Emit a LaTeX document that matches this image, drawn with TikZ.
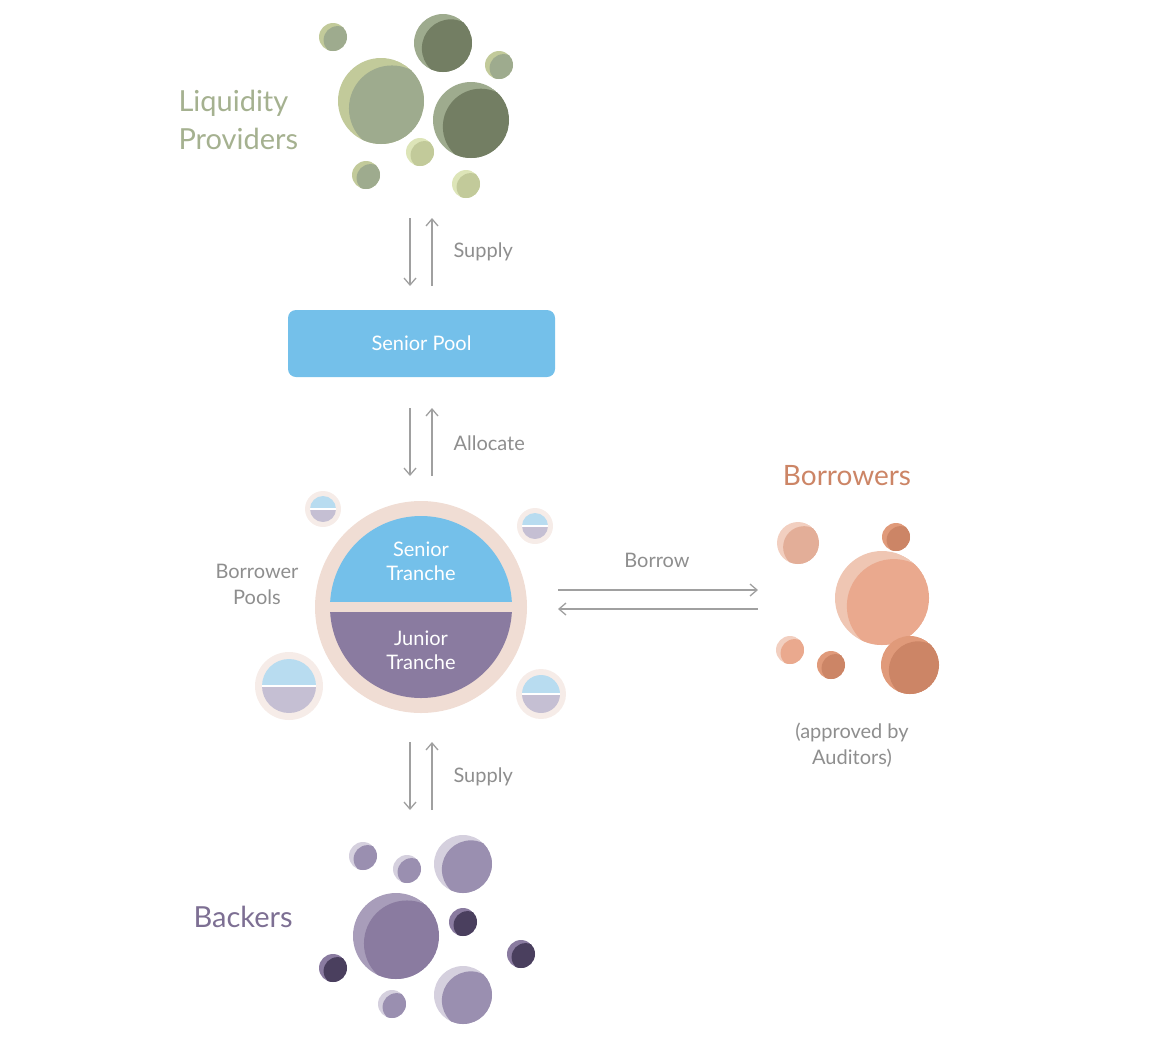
\documentclass[tikz,border=0pt]{standalone}
\usepackage{fontspec}
\setmainfont{Lato}
\usetikzlibrary{arrows.meta}
\definecolor{gA}{HTML}{C2CA9A}\definecolor{gB}{HTML}{9EAB8E}\definecolor{gC}{HTML}{737E63}\definecolor{gL}{HTML}{DDE5B8}
\definecolor{oA}{HTML}{F2CFC0}\definecolor{oB}{HTML}{E3AE98}\definecolor{oC}{HTML}{EFC6B3}\definecolor{oD}{HTML}{EAA98E}\definecolor{oE}{HTML}{E09A7A}\definecolor{oF}{HTML}{CC8566}
\definecolor{pA}{HTML}{D5D0DE}\definecolor{pB}{HTML}{9A8FB0}\definecolor{pC}{HTML}{A89DBA}\definecolor{pD}{HTML}{8A7BA0}\definecolor{pE}{HTML}{4A3F5E}
\definecolor{blue}{HTML}{74C0EA}\definecolor{ring}{HTML}{F0DDD4}\definecolor{lblue}{HTML}{B8DCF0}\definecolor{lpurp}{HTML}{C5BFD3}\definecolor{pring}{HTML}{F6ECE8}
\definecolor{txt}{HTML}{8E8E8E}\definecolor{arr}{HTML}{A0A0A0}
\newcommand{\bubl}[5]{\begin{scope}\clip (#1,#2) circle (#3);\fill[#4] (#1,#2) circle (#3);\fill[#5] ({#1+0.22*#3+1.5},{#2+0.15*#3+1}) circle (#3);\end{scope}}
\newcommand{\minipool}[4]{\fill[pring] (#1,#2) circle (#3);
\begin{scope}\clip (#1,#2) circle (#4);\fill[lblue] ({#1-#4},{#2-#4}) rectangle ({#1+#4},#2);\fill[lpurp] ({#1-#4},#2) rectangle ({#1+#4},{#2+#4});\fill[white] ({#1-#4},{#2-1}) rectangle ({#1+#4},{#2+1});\end{scope}}
\begin{document}
\begin{tikzpicture}[x=1pt,y=-1pt,
 lbl/.style={text=txt,font=\fontsize{20}{26}\selectfont,align=center},
 ar/.style={draw=arr,line width=1.3pt,-{Straight Barb[length=7pt,width=12pt]}}]
\useasboundingbox (0,0) rectangle (1174,1058);
% Liquidity providers
\bubl{333}{37}{14}{gA}{gB}
\bubl{381}{101}{43}{gA}{gB}
\bubl{443}{43}{29}{gB}{gC}
\bubl{499}{65}{14}{gA}{gB}
\bubl{471}{120}{38}{gB}{gC}
\bubl{420}{152}{14}{gL}{gA}
\bubl{366}{175}{14}{gA}{gB}
\bubl{466}{184}{14}{gL}{gA}
\node[anchor=west,text=gB!80!gA,font=\fontsize{29}{38}\selectfont,align=left] (lp) at (175,120) {Liquidity\\Providers};
% supply arrows
\coordinate (s1a) at (410,218);\coordinate (s1b) at (410,286);
\coordinate (s2a) at (432,286);\coordinate (s2b) at (432,218);
\draw[ar] (s1a)--(s1b);\draw[ar] (s2a)--(s2b);
\node[lbl,anchor=west] (sup1) at (450,252) {Supply};
% senior pool
\node[fill=blue,rounded corners=8pt,minimum width=267pt,minimum height=67pt,text=white,font=\fontsize{20}{24}\selectfont] (sp) at (421.5,343.5) {Senior Pool};
\coordinate (a1a) at (410,408);\coordinate (a1b) at (410,476);
\coordinate (a2a) at (432,476);\coordinate (a2b) at (432,408);
\draw[ar] (a1a)--(a1b);\draw[ar] (a2a)--(a2b);
\node[lbl,anchor=west] (alloc) at (450,443) {Allocate};
% borrower pools
\fill[ring] (421,607) circle (106);
\begin{scope}\clip (421,607) circle (91);
\fill[blue] (320,500) rectangle (520,602);
\fill[pD] (320,612) rectangle (520,710);
\end{scope}
\node[text=white,font=\fontsize{20}{24}\selectfont,align=center] (st) at (421,561) {Senior\\Tranche};
\node[text=white,font=\fontsize{20}{24}\selectfont,align=center] (jt) at (421,650) {Junior\\Tranche};
\minipool{323}{509}{18}{13}
\minipool{535}{526}{18}{13}
\minipool{289}{686}{34}{27}
\minipool{541}{694}{25}{19}
\node[lbl] (bp) at (257,584) {Borrower\\Pools};
% borrow arrows
\coordinate (b1a) at (558,590);\coordinate (b1b) at (758,590);
\coordinate (b2a) at (758,609);\coordinate (b2b) at (558,609);
\draw[ar] (b1a)--(b1b);\draw[ar] (b2a)--(b2b);
\node[lbl] (borrow) at (657,560) {Borrow};
% borrowers
\node[text=oF,font=\fontsize{28}{34}\selectfont] (bor) at (847,476) {Borrowers};
\bubl{798}{543}{21}{oA}{oB}
\bubl{882}{598}{47}{oC}{oD}
\bubl{896}{537}{14}{oE}{oF}
\bubl{790}{650}{14}{oA}{oD}
\bubl{831}{665}{14}{oE}{oF}
\bubl{910}{665}{29}{oE}{oF}
\node[lbl] (aud) at (852,745) {(approved by\\Auditors)};
% supply lower
\coordinate (c1a) at (410,742);\coordinate (c1b) at (410,810);
\coordinate (c2a) at (432,810);\coordinate (c2b) at (432,742);
\draw[ar] (c1a)--(c1b);\draw[ar] (c2a)--(c2b);
\node[lbl,anchor=west] (sup2) at (450,777) {Supply};
% backers
\node[anchor=west,text=pD!80!pE,font=\fontsize{29}{36}\selectfont] (bk) at (190,917) {Backers};
\bubl{363}{856}{14}{pA}{pB}
\bubl{407}{869}{14}{pA}{pB}
\bubl{463}{864}{29}{pA}{pB}
\bubl{396}{936}{43}{pC}{pD}
\bubl{463}{922}{14}{pD}{pE}
\bubl{521}{954}{14}{pD}{pE}
\bubl{333}{968}{14}{pD}{pE}
\bubl{392}{1004}{14}{pA}{pB}
\bubl{463}{995}{29}{pA}{pB}
\end{tikzpicture}
\end{document}
